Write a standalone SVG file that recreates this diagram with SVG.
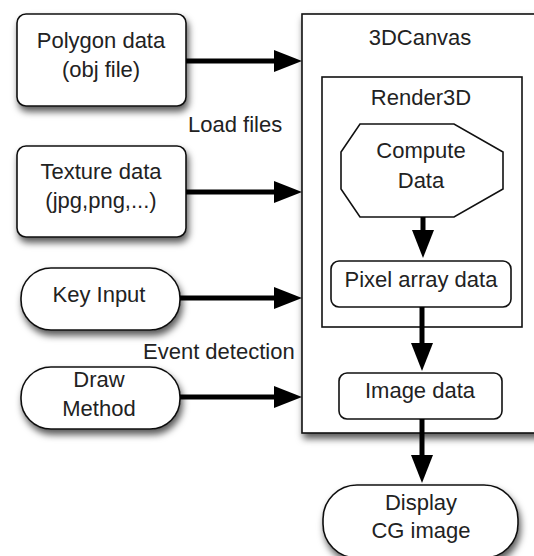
<svg xmlns="http://www.w3.org/2000/svg" width="534" height="556" viewBox="0 0 534 556">
  <style>
    .box { fill: #ffffff; stroke: #111111; stroke-width: 1.6; }
    .shadow { filter: url(#drop); }
    .label { font-family: "Liberation Sans", Arial, sans-serif; font-size: 22px; fill: #222222; text-anchor: middle; }
    .free { text-anchor: start; }
    .conn { stroke: #000000; stroke-width: 5; fill: none; marker-end: url(#head); }
  </style>
  <defs>
    <filter id="drop" x="-20%" y="-20%" width="150%" height="160%">
      <feDropShadow dx="2" dy="5" stdDeviation="3.5" flood-color="#000000" flood-opacity="0.65"/>
    </filter>
    <marker id="head" markerUnits="userSpaceOnUse" markerWidth="28" markerHeight="22" refX="0" refY="11" orient="auto">
      <path d="M0,0 L28,11 L0,22 z" fill="#000000"/>
    </marker>
  </defs>

  <!-- outer canvas container -->
  <g id="canvas3d">
    <rect class="box shadow" x="302" y="14" width="240" height="419"/>
    <text class="label" x="420" y="45">3DCanvas</text>
  </g>

  <!-- renderer inside the canvas -->
  <g id="render3d">
    <rect class="box" x="322" y="77" width="200" height="250"/>
    <text class="label" x="421" y="105">Render3D</text>
  </g>

  <g id="compute">
    <polygon class="box" points="360,124 454,124 503,152 503,189 454,217 360,217 341,189 341,152"/>
    <text class="label" x="421" y="158">Compute</text>
    <text class="label" x="421" y="188">Data</text>
  </g>

  <g id="pixels">
    <rect class="box" x="331" y="261" width="180" height="46" rx="8"/>
    <text class="label" x="421" y="287">Pixel array data</text>
  </g>

  <g id="image">
    <rect class="box" x="339" y="373" width="163" height="46" rx="8"/>
    <text class="label" x="420" y="398">Image data</text>
  </g>

  <g id="display">
    <rect class="box shadow" x="323" y="485" width="195" height="73" rx="34"/>
    <text class="label" x="421" y="510">Display</text>
    <text class="label" x="421" y="538">CG image</text>
  </g>

  <!-- inputs on the left -->
  <g id="polygon">
    <rect class="box shadow" x="17" y="14" width="169" height="92" rx="9"/>
    <text class="label" x="101" y="48">Polygon data</text>
    <text class="label" x="101" y="77">(obj file)</text>
  </g>

  <g id="texture">
    <rect class="box shadow" x="17" y="146" width="169" height="91" rx="9"/>
    <text class="label" x="101" y="179">Texture data</text>
    <text class="label" x="101" y="208">(jpg,png,...)</text>
  </g>

  <g id="key">
    <rect class="box shadow" x="21" y="268" width="159" height="62" rx="30"/>
    <text class="label" x="99" y="302">Key Input</text>
  </g>

  <g id="draw">
    <rect class="box shadow" x="21" y="367" width="159" height="62" rx="30"/>
    <text class="label" x="99" y="387">Draw</text>
    <text class="label" x="99" y="416">Method</text>
  </g>

  <g id="captions">
    <text class="label free" x="188" y="132">Load files</text>
    <text class="label free" x="143" y="359">Event detection</text>
  </g>

  <!-- connectors -->
  <g id="connectors">
    <line class="conn" x1="186" y1="61" x2="274" y2="61"/>
    <line class="conn" x1="186" y1="192" x2="274" y2="192"/>
    <line class="conn" x1="180" y1="298" x2="274" y2="298"/>
    <line class="conn" x1="180" y1="397" x2="274" y2="397"/>
    <line class="conn" x1="423" y1="217" x2="423" y2="230"/>
    <line class="conn" x1="422" y1="307" x2="422" y2="343"/>
    <line class="conn" x1="422" y1="419" x2="422" y2="455"/>
  </g>
</svg>
